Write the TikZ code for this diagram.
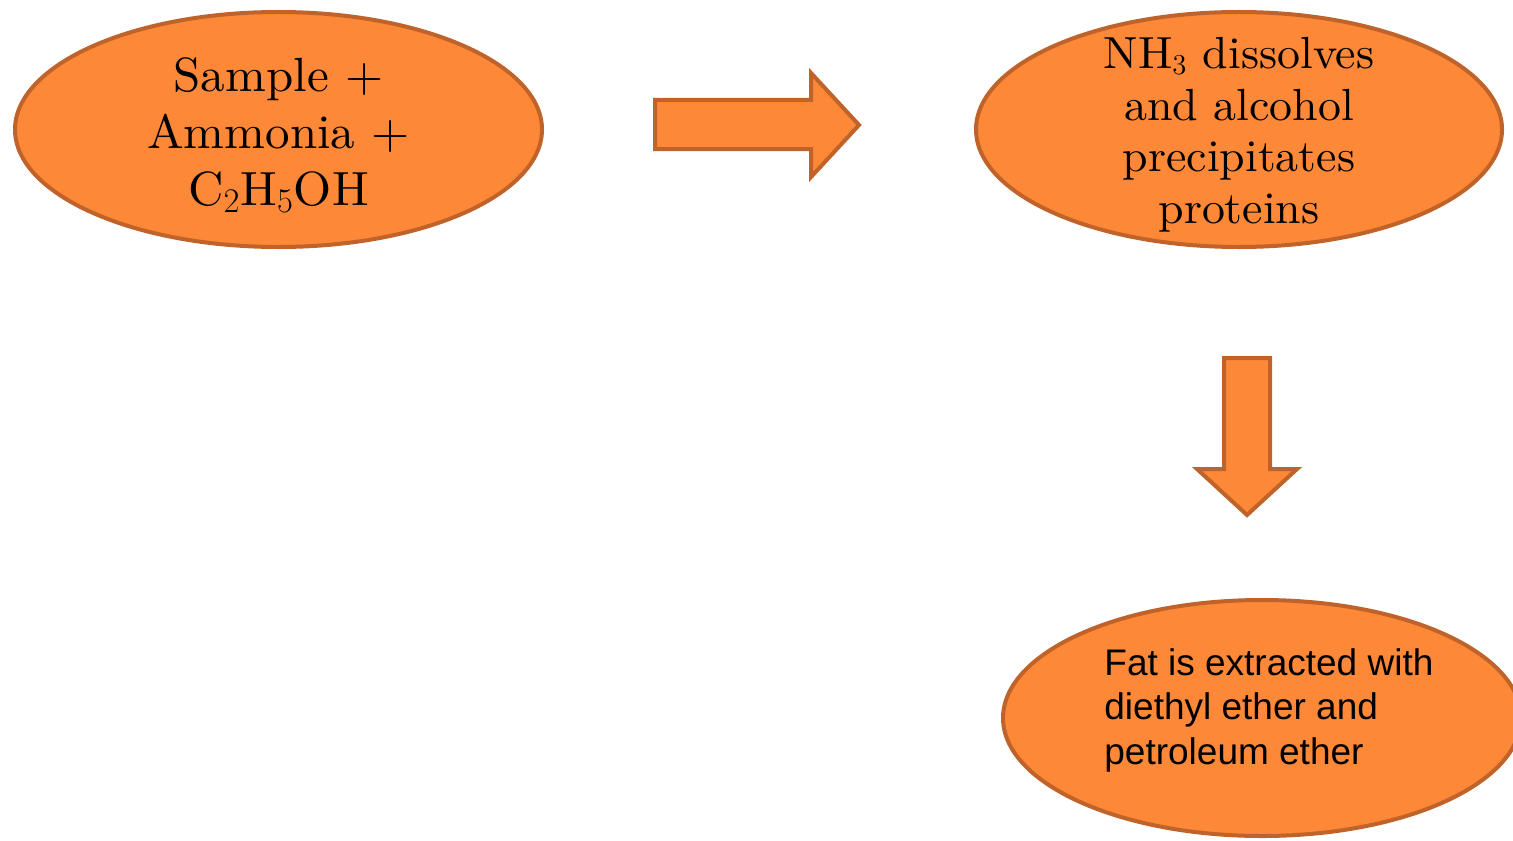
\documentclass[tikz,border=0pt]{standalone}
\usepackage{fontspec}
\newfontfamily\sansfont{Liberation Sans}
\newfontfamily\wideserif{lmroman10-regular.otf}[FakeStretch=1.02]
\usetikzlibrary{shapes.geometric}
\definecolor{blobfill}{RGB}{253,136,55}
\definecolor{blobedge}{RGB}{192,99,42}
\tikzset{
	blob/.style={ellipse, draw=blobedge, fill=blobfill, line width=2pt, inner sep=0pt},
	blockarrow/.style={draw=blobedge, fill=blobfill, line width=2pt, line join=miter},
	bigserif/.style={inner sep=0pt, align=center, font=\wideserif\fontsize{24}{28.5}\selectfont},
	midserif/.style={inner sep=0pt, align=center, font=\wideserif\fontsize{22.5}{25.8}\selectfont},
	plainsans/.style={inner sep=0pt, align=left, font=\sansfont\fontsize{18.5}{22.3}\selectfont}
}

\begin{document}
\begin{tikzpicture}[x=0.5pt, y=-0.5pt]
		%%%%% START %%%%%
		\useasboundingbox (0, 0) rectangle (1513, 840);
		\clip (0, 0) rectangle (1513, 840);
		
		% the three steps
		\node[blob, minimum width=263.5pt, minimum height=117.5pt] (mix) at (278.5, 129.5) {};
		\node[blob, minimum width=263pt, minimum height=117.5pt] (precip) at (1239, 129.5) {};
		\node[blob, minimum width=259pt, minimum height=118pt] (extract) at (1262, 718) {};
		
		\node[bigserif, anchor=north] (mixtext) at (278.5, 57) {Sample +\\Ammonia +\\C$_2$H$_5$OH};
		\node[midserif, anchor=north] (preciptext) at (1239, 37) {NH$_3$ dissolves\\and alcohol\\precipitates\\proteins};
		\node[plainsans, anchor=north west] (extracttext) at (1104, 648) {Fat is extracted with\\diethyl ether and\\petroleum ether};
		
		% block arrows
		\draw[blockarrow] (655, 100) -- (811, 100) -- (811, 73) -- (859, 125) -- (811, 177) -- (811, 149) -- (655, 149) -- cycle;
		\draw[blockarrow] (1224, 358) -- (1270, 358) -- (1270, 469) -- (1297, 469) -- (1247, 515) -- (1197, 469) -- (1224, 469) -- cycle;
		
		%%%%% END %%%%%
\end{tikzpicture}
\end{document}
